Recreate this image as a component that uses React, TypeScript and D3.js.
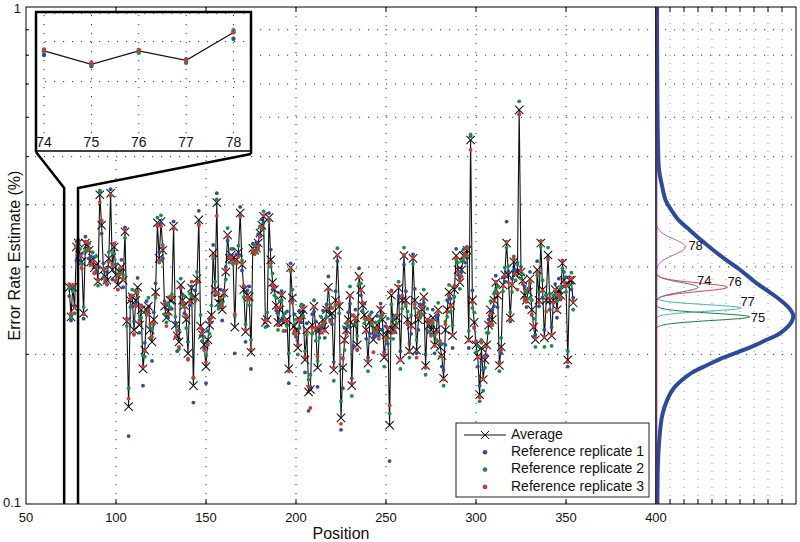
import React from "react";
import * as d3 from "d3";

// ---------- DATA ----------
const START_POSITION = 74;
// Average error rate estimate per position, in thousandths of a percent (positions 74..354)
const avgRate = [
  273, 238, 273, 248, 329, 335, 317, 307, 242, 335,
  332, 324, 307, 312, 299, 303, 280, 419, 364, 296,
  287, 282, 312, 422, 296, 329, 289, 276, 293, 300,
  282, 353, 233, 157, 257, 261, 224, 257, 273, 229,
  246, 187, 204, 246, 250, 224, 212, 235, 267, 368,
  312, 370, 324, 250, 237, 244, 257, 257, 362, 229,
  218, 212, 276, 257, 251, 235, 201, 257, 272, 173,
  261, 284, 373, 228, 219, 209, 189, 214, 229, 240,
  320, 270, 404, 254, 260, 246, 266, 293, 348, 312,
  317, 312, 227, 310, 321, 385, 303, 270, 222, 263,
  261, 202, 327, 324, 327, 335, 351, 364, 379, 232,
  235, 377, 310, 279, 270, 251, 232, 246, 263, 232,
  233, 235, 187, 299, 260, 228, 224, 206, 235, 240,
  246, 195, 224, 168, 170, 229, 250, 224, 188, 224,
  228, 235, 224, 246, 273, 240, 242, 186, 257, 317,
  250, 149, 188, 214, 224, 235, 263, 173, 229, 237,
  209, 287, 270, 251, 240, 224, 192, 232, 235, 214,
  224, 229, 222, 246, 235, 197, 219, 224, 144, 263,
  224, 229, 237, 272, 195, 257, 316, 257, 235, 203,
  229, 312, 257, 204, 235, 244, 246, 261, 190, 235,
  229, 224, 237, 209, 224, 246, 207, 199, 179, 224,
  246, 267, 251, 218, 270, 316, 296, 279, 296, 316,
  317, 324, 214, 540, 257, 232, 209, 198, 166, 206,
  178, 195, 209, 229, 246, 235, 257, 279, 263, 190,
  207, 276, 289, 335, 289, 237, 276, 307, 289, 293,
  621, 293, 282, 263, 257, 267, 284, 246, 227, 214,
  296, 257, 335, 270, 216, 257, 317, 257, 218, 257,
  270, 246, 270, 263, 305, 282, 276, 195, 282, 282,
  254,
];
// Replicate deviations from the average (thousandths of a percent)
const rep1Dev = [
  -11, -4, 0, 3, -20, 5, -8, 12, -6, 10,
  4, -12, 8, -5, 15, -9, 3, 6, -14, 9,
  -7, 11, -4, 8, -13, 5, 14, -6, -2, 10,
  -9, 7, 3, -20, 6, -11, 9, -4, 12, -8,
  5, -14, 7, 10, -6, 2, -18, 8, 11, -5,
  9, -3, -12, 6, 14, -7, 4, -10, 8, 3,
  -15, 12, -4, 7, -9, 5, 11, -6, 2, -13,
  8, -5, 16, -10, 4, -3, -14, 9, 6, -8,
  12, -7, 18, -4, 10, -12, 3, 7, -9, 5,
  -6, 14, -26, 8, -3, 11, -8, 4, -10, 6,
  13, -15, 7, -2, 9, 14, -5, 10, -11, 3,
  -7, 8, 15, -9, 4, -6, 11, -13, 5, 2,
  -10, 9, -12, 6, -4, 13, -7, 3, 10, -8,
  5, -11, 7, -14, 2, 12, -6, 9, -16, 4,
  -3, 10, -8, 6, 14, -5, -12, 7, 11, -9,
  4, -8, -17, 12, -3, 8, -10, 6, -21, 9,
  -5, 11, -7, 3, 13, -9, 5, -12, 8, 2,
  -6, 10, -4, 7, -11, 5, 9, -14, -22, 6,
  12, -7, 3, -10, 8, 4, -13, 11, -5, 7,
  -9, 6, 14, -3, -11, 8, 2, -7, 10, -12,
  5, -4, 9, -8, 13, -6, 3, -10, 7, -15,
  11, -5, 8, -12, 4, 10, -7, 6, -3, 9,
  -11, 5, -8, 10, 12, -6, 3, -9, 7, -13,
  8, 4, -10, 6, -5, 11, -7, 9, -14, 3,
  -6, 10, -9, 35, 5, -4, 8, -12, 6, 13,
  -12, 7, -5, 11, -8, 4, 9, -6, -10, 5,
  12, -7, 3, -10, 8, 6, -4, -11, 9, -3,
  7, -9, 14, -5, 3, -8, 10, -6, 4, -12,
  6,
];
const rep2Dev = [
  -1, 0, -5, -6, 8, -6, 9, -3, 7, -12,
  -8, 10, -4, 9, -7, 12, -5, 8, 6, -10,
  11, -6, 9, -3, 8, -10, -7, 12, 5, -9,
  7, -10, -5, 14, -8, 9, -4, 11, -7, 5,
  -9, 12, -6, -4, 10, -8, 13, -5, -7, 9,
  -6, 11, 8, -9, -5, 10, -8, 7, -4, 9,
  10, -7, 8, -5, 11, -9, -6, 8, -10, 6,
  -5, 9, -7, 12, -6, 8, 10, -5, -9, 11,
  -8, 10, 6, -7, -9, 8, -4, -10, 11, -6,
  9, -8, 12, -5, 10, -7, 6, -9, 8, -4,
  -10, 12, -5, 8, -6, -9, 11, -7, 9, -5,
  8, -6, -10, 12, -7, 9, -8, 10, -6, 7,
  9, -7, 14, -5, 10, -8, 11, -6, -9, 12,
  -7, 8, -5, 10, 12, -9, 7, -11, 6, -8,
  10, -6, 9, -8, -11, 12, 6, -9, -6, 10,
  -8, 12, 9, -10, 7, -6, 11, -8, 10, -7,
  9, -10, 8, -6, -9, 11, -7, 8, -5, 10,
  8, -7, 11, -9, 6, -8, -6, 12, 8, -11,
  -9, 10, -6, 8, -8, -10, 12, -7, 9, -6,
  11, -8, -9, 10, 8, -7, -5, 9, -8, 12,
  -7, 10, -6, 9, -10, 8, -9, 11, -6, 9,
  -8, 9, -7, 11, -9, -6, 10, -8, 12, -7,
  10, -8, 9, 14, -9, 11, -7, 10, -5, 8,
  -9, -7, 12, -8, 10, -6, 8, -10, 11, -5,
  9, -8, 10, -7, 12, 6, -9, 8, -7, 10,
  25, -9, 8, -7, 10, -8, -6, 11, 9, -7,
  -8, 10, -6, 12, -9, 7, 11, 8, -10, 6,
  -6, 10, -8, 9, -7, 11, -9, 8, -6, 10,
  -8,
];
const rep3Dev = [
  4, 4, 3, 1, 1, 1, -1, -9, -1, 2,
  4, 2, -4, -4, -8, -3, 2, -14, 8, 1,
  -4, -5, -5, -5, 5, 5, -7, -6, -3, -1,
  2, 3, 2, 6, 2, 2, -5, -7, -5, 3,
  4, 2, -1, -6, -4, 6, 5, -3, -4, -4,
  -3, -8, 4, 3, -9, -3, 4, 3, -4, -12,
  5, -5, -4, -2, -2, 4, -5, -2, 8, 7,
  -3, -4, -9, -2, 2, -5, 4, -4, 3, -3,
  -4, -3, -24, 11, -1, 4, 1, 3, -2, 1,
  -3, -6, 14, -3, -7, -4, 2, 5, 2, -2,
  -3, 3, -2, -6, -3, -5, -6, -3, 2, 2,
  -1, -2, -5, -3, 3, -3, -3, 3, 1, -9,
  1, -2, -2, -1, -6, -5, -4, 3, -1, -4,
  2, 3, -2, 4, -14, -3, -1, 2, 10, 4,
  -7, -4, -1, 2, -3, -7, 6, 2, -5, -1,
  4, -4, 8, -2, -4, -2, -1, 2, 11, -2,
  -4, -1, -1, 3, -4, -2, 2, 4, -3, -12,
  -2, -3, -7, 2, 5, 3, -3, 2, 14, 5,
  -3, -3, 3, 2, 0, 6, 1, -4, -4, -1,
  -2, 2, -5, -7, 3, -1, 3, -2, -2, 0,
  2, -6, -3, -1, -3, -2, 6, -1, -1, 6,
  -3, -4, -1, 1, 5, -4, -3, 2, -9, -2,
  1, 3, -1, -24, -3, -5, 4, -1, -2, 5,
  1, 3, -2, 2, -5, -5, -1, 1, 3, 2,
  -3, -2, -1, 2, -10, -2, 1, 4, 1, -23,
  -13, 2, -3, -4, -2, 4, -3, -5, 1, 2,
  -4, -3, 3, -2, 1, -13, -7, 3, 1, -3,
  -1, -1, -6, -4, 4, -3, -1, -2, 2, 2,
  2,
];

const xTickValues = [50, 100, 150, 200, 250, 300, 350, 400];
const yLabelValues = [0.1, 1];
const yMinorValues = [0.2, 0.3, 0.4, 0.5, 0.6, 0.7, 0.8, 0.9];
const densityTickValues = [1, 2, 3, 4, 5, 6, 7, 8, 9];

// Zoomed region shown in the inset
const zoomPositions = [74, 75, 76, 77, 78];
const zoomSpan = [71.2, 78.9];
const insetGridRates = [0.2, 0.3, 0.4];

// Overall distribution of error rates (right panel)
const densityRates = [1.0, 0.65, 0.516, 0.47, 0.438, 0.409, 0.39, 0.373, 0.356, 0.34, 0.324, 0.31, 0.296, 0.278, 0.267, 0.257, 0.248, 0.24, 0.233, 0.221, 0.214, 0.207, 0.197, 0.19, 0.184, 0.178, 0.17, 0.162, 0.151, 0.141, 0.123, 0.1];
const densityHeights = [0.07, 0.1, 0.15, 0.22, 0.42, 0.68, 1.1, 1.6, 2.4, 3.2, 4.1, 5.0, 6.0, 7.2, 8.1, 8.9, 9.5, 9.8, 9.7, 8.9, 7.9, 6.8, 4.8, 3.6, 2.6, 1.9, 1.2, 0.8, 0.45, 0.3, 0.15, 0.1];

// Per-position replicate distributions (spread in log10 units, peak height)
const zoomSpread = [0.0095, 0.0072, 0.0085, 0.0065, 0.016];
const zoomPeak = [3.0, 6.7, 5.1, 6.1, 2.1];

const legendLabels = ["Average", "Reference replicate 1", "Reference replicate 2", "Reference replicate 3"];

// ---------- STYLE / LAYOUT ----------
const FONT = "'Liberation Sans', Arial, Helvetica, sans-serif";
const repColors = ["#2f4c9e", "#1e8a4a", "#d8352c"];
const zoomColors = ["#4a5cb0", "#1f7a3c", "#d4433c", "#3fb3b5", "#a04ea0"];
const labelShift = [[-1, -6], [1, 2], [0, -5], [-1, -5], [3, 0]];
const L = 26, R = 656, PR = 796, T = 7, B = 504;

const xScale = d3.scaleLinear().domain([50, 400]).range([L, R]);
const yScale = d3.scaleLog().domain([0.1, 1]).range([B, T]);
const dScale = d3.scaleLinear().domain([0, 10]).range([R, PR]);
const inset = { x0: 36, x1: 251, y0: 12, y1: 151 };
const insetX = d3.scaleLinear().domain([73.83, 78.37]).range([inset.x0, inset.x1]);
const insetY = d3.scaleLog().domain([0.1, 0.405]).range([150, 12]);

const xMark = (x: number, y: number, s: number) => `M${x - s},${y - s}L${x + s},${y + s}M${x - s},${y + s}L${x + s},${y - s}`;

export default function App() {
  const positions = avgRate.map((_, i) => START_POSITION + i);
  const avg = avgRate.map((v) => v / 1000);
  const reps = [rep1Dev, rep2Dev, rep3Dev].map((dev) => avgRate.map((v, i) => (v + dev[i]) / 1000));

  const mainLine = d3.line<number>().x((_, i) => xScale(positions[i])).y((d) => yScale(d));
  const zoomIdx = zoomPositions.map((p) => p - START_POSITION);
  const insetLine = d3.line<number>().x((i) => insetX(positions[i])).y((i) => insetY(avg[i]));

  const bigCurve = d3
    .line<number>()
    .x((i) => dScale(densityHeights[i]))
    .y((i) => yScale(densityRates[i]))
    .curve(d3.curveCatmullRom)(densityRates.map((_, i) => i));

  const logGrid = d3.range(-1, 0.0001, 0.0005);
  const smallCurves = zoomIdx.map((idx, k) => {
    const c = Math.log10(avg[idx]);
    const pts = logGrid.map((lg) => [dScale(zoomPeak[k] * Math.exp(-0.5 * ((lg - c) / zoomSpread[k]) ** 2)), yScale(10 ** lg)] as [number, number]);
    return d3.line()(pts);
  });

  const gridDot = "1.2,7.8";

  return (
    <svg width={800} height={542} style={{ position: "absolute", left: 0, top: 0, background: "#fff" }} fontFamily={FONT}>
      <rect x={0} y={0} width={800} height={542} fill="#fff" />
      {/* right panel vertical grid */}
      {densityTickValues.map((d) => (
        <line key={"dv" + d} x1={dScale(d)} x2={dScale(d)} y1={T} y2={B} stroke="#9a9a9a" strokeDasharray="1,7" />
      ))}
      {/* horizontal grid */}
      {yMinorValues.map((v) => (
        <line key={"hg" + v} x1={L} x2={PR} y1={yScale(v)} y2={yScale(v)} stroke="#333" strokeDasharray={gridDot} />
      ))}
      {/* vertical grid main */}
      {xTickValues.slice(1, -1).map((v) => (
        <line key={"vg" + v} x1={xScale(v)} x2={xScale(v)} y1={T} y2={B} stroke="#333" strokeDasharray={gridDot} />
      ))}

      {/* data */}
      <path d={mainLine(avg) || ""} fill="none" stroke="#111" strokeWidth={1.1} />
      {avg.map((v, i) => (
        <path key={"x" + i} d={xMark(xScale(positions[i]), yScale(v), 4.2)} stroke="#111" strokeWidth={1.05} fill="none" />
      ))}
      {reps.map((r, k) =>
        r.map((v, i) => <circle key={`r${k}-${i}`} cx={xScale(positions[i])} cy={yScale(v)} r={1.9} fill={repColors[k]} />)
      )}

      {/* zoom connector lines */}
      <path d={`M${inset.x0},${inset.y1 + 1}L${xScale(zoomSpan[0])},188L${xScale(zoomSpan[0])},${B}`} fill="none" stroke="#000" strokeWidth={2.5} />
      <path d={`M${inset.x1},${inset.y1 + 3}L${xScale(zoomSpan[1])},188L${xScale(zoomSpan[1])},${B}`} fill="none" stroke="#000" strokeWidth={2.5} />

      {/* inset */}
      <rect x={inset.x0} y={inset.y0} width={inset.x1 - inset.x0} height={inset.y1 - inset.y0} fill="#fff" stroke="none" />
      {insetGridRates.map((v) => (
        <line key={"ig" + v} x1={inset.x0} x2={inset.x1} y1={insetY(v)} y2={insetY(v)} stroke="#333" strokeDasharray={gridDot} />
      ))}
      {zoomPositions.map((p) => (
        <line key={"ivg" + p} x1={insetX(p)} x2={insetX(p)} y1={15} y2={134} stroke="#333" strokeDasharray={gridDot} />
      ))}
      <path d={insetLine(zoomIdx) || ""} fill="none" stroke="#111" strokeWidth={1.2} />
      {reps.map((r, k) =>
        zoomIdx.map((i) => <circle key={`ir${k}-${i}`} cx={insetX(positions[i])} cy={insetY(r[i])} r={2.2} fill={repColors[k]} />)
      )}
      {zoomPositions.map((p) => (
        <text key={"il" + p} x={insetX(p)} y={147} fontSize={14} textAnchor="middle" fill="#111">
          {p}
        </text>
      ))}
      <line x1={inset.x0} x2={inset.x1} y1={inset.y1} y2={inset.y1} stroke="#000" strokeWidth={1.5} />
      <path d={`M${inset.x0},${inset.y1 + 1}L${inset.x0},${inset.y0}L${inset.x1},${inset.y0}L${inset.x1},${inset.y1 + 3}`} fill="none" stroke="#000" strokeWidth={2.5} />

      {/* right panel curves */}
      {smallCurves.map((d, k) => (
        <path key={"sc" + k} d={d || ""} fill="none" stroke={zoomColors[k]} strokeWidth={1} />
      ))}
      <path d={bigCurve || ""} fill="none" stroke="#2e4a9c" strokeWidth={4} />
      {zoomIdx.map((idx, k) => (
        <text key={"zl" + k} x={dScale(zoomPeak[k]) + labelShift[k][0]} y={yScale(avg[idx]) + labelShift[k][1]} dominantBaseline="middle" fontSize={13} fill="#111">
          {zoomPositions[k]}
        </text>
      ))}

      {/* frame */}
      <rect x={L} y={T} width={PR - L} height={B - T} fill="none" stroke="#000" strokeWidth={1} />
      <line x1={R} x2={R} y1={T} y2={B} stroke="#000" strokeWidth={1} />
      <line x1={R + 0.8} x2={R + 0.8} y1={T} y2={B} stroke="#6b2f6b" strokeWidth={1} />

      {/* ticks */}
      {xTickValues.slice(1, -1).map((v) => (
        <g key={"xt" + v}>
          <line x1={xScale(v)} x2={xScale(v)} y1={B} y2={B - 5} stroke="#000" />
          <line x1={xScale(v)} x2={xScale(v)} y1={T} y2={T + 5} stroke="#000" />
        </g>
      ))}
      {densityTickValues.map((d) => (
        <g key={"dt" + d}>
          <line x1={dScale(d)} x2={dScale(d)} y1={B} y2={B - 5} stroke="#000" />
          <line x1={dScale(d)} x2={dScale(d)} y1={T} y2={T + 5} stroke="#000" />
        </g>
      ))}
      {yMinorValues.map((v) => (
        <line key={"yt" + v} x1={L} x2={L + 3} y1={yScale(v)} y2={yScale(v)} stroke="#000" />
      ))}

      {/* tick labels */}
      {xTickValues.map((v) => (
        <text key={"xl" + v} x={xScale(v)} y={522} fontSize={13} textAnchor="middle" fill="#111">
          {v}
        </text>
      ))}
      {yLabelValues.map((v) => (
        <text key={"yl" + v} x={21} y={Math.max(yScale(v), 10)} fontSize={13} textAnchor="end" dominantBaseline="middle" fill="#111">
          {v}
        </text>
      ))}
      <text x={(L + R) / 2} y={539} fontSize={16} textAnchor="middle" fill="#111">
        Position
      </text>
      <text transform={`translate(16,${(T + B) / 2}) rotate(-90)`} fontSize={16} textAnchor="middle" dominantBaseline="middle" fill="#111">
        Error Rate Estimate (%)
      </text>

      {/* legend */}
      <g>
        <rect x={456} y={423} width={193} height={74} fill="#fff" stroke="#222" strokeWidth={1} />
        {legendLabels.map((lab, i) => {
          const cy = 435 + i * 17.3;
          return (
            <g key={lab}>
              {i === 0 ? (
                <>
                  <line x1={464} x2={506} y1={cy} y2={cy} stroke="#111" strokeWidth={1.1} />
                  <path d={xMark(485, cy, 4)} stroke="#111" fill="none" />
                </>
              ) : (
                <circle cx={485} cy={cy} r={2.3} fill={repColors[i - 1]} />
              )}
              <text x={511} y={cy} fontSize={14} dominantBaseline="middle" fill="#111">
                {lab}
              </text>
            </g>
          );
        })}
      </g>
    </svg>
  );
}
